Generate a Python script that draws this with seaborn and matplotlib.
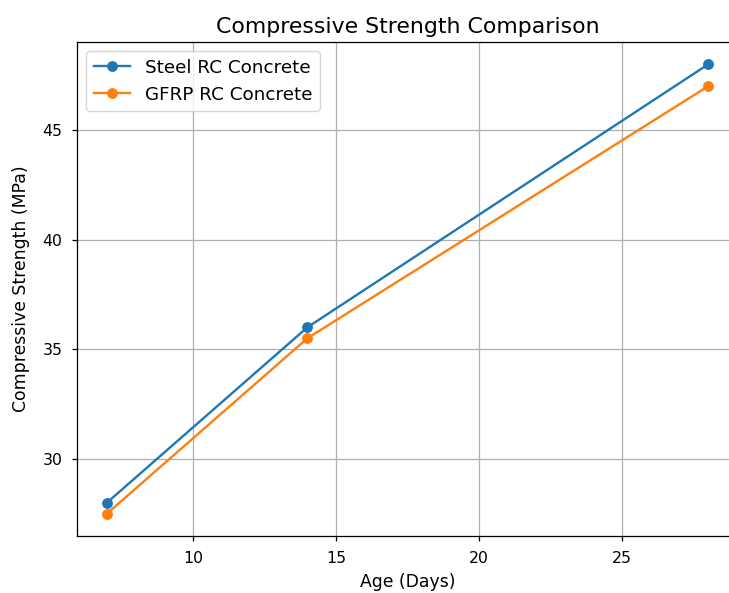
import matplotlib
matplotlib.use("Agg")
import matplotlib.pyplot as plt
import seaborn as sns
import pandas as pd

days = [7, 14, 28]
steel = [28, 36, 48]
gfrp = [27.5, 35.5, 47]
series_names = ["Steel RC Concrete", "GFRP RC Concrete"]

df = pd.DataFrame({
    "Age": days * 2,
    "Strength": steel + gfrp,
    "Type": [series_names[0]] * len(days) + [series_names[1]] * len(days),
})

s = 1.13
plt.rcParams.update({
    "axes.linewidth": 0.8 * s,
    "grid.linewidth": 0.8 * s,
    "xtick.major.width": 0.8 * s,
    "ytick.major.width": 0.8 * s,
    "xtick.major.size": 3.5 * s,
    "ytick.major.size": 3.5 * s,
    "xtick.major.pad": 6.5,
    "ytick.major.pad": 6.5,
    "axes.titlepad": 6.0 * s,
})

fig = plt.figure(figsize=(7.29, 5.93), dpi=100)
ax = fig.add_axes([77 / 729, 1 - 536 / 593, (738 - 77) / 729, (536 - 42) / 593])
sns.lineplot(data=df, x="Age", y="Strength", hue="Type", marker="o",
             markersize=7.8, markeredgewidth=0, palette=["#1f77b4", "#ff7f0e"],
             linewidth=1.5 * s, ax=ax)
ax.set_title("Compressive Strength Comparison", fontsize=14 * s)
ax.set_xlabel("Age (Days)", fontsize=11 * s, labelpad=5.5)
ax.set_ylabel("Compressive Strength (MPa)", fontsize=11 * s, labelpad=9)
ax.grid(True)
ax.legend(title=None, loc="upper left", fontsize=11.7 * s)
ax.tick_params(labelsize=10 * s)
fig.savefig("out.png", dpi=100)
